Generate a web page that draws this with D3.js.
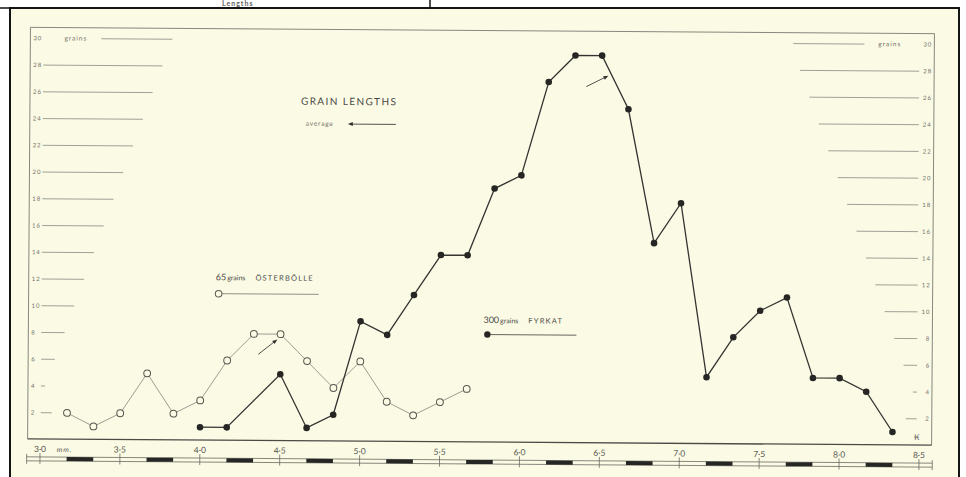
<!DOCTYPE html>
<html>
<head>
<meta charset="utf-8">
<script src="https://cdn.jsdelivr.net/npm/d3@7"></script>
<style>
  body { margin: 0; background: #ffffff; }
  svg { display: block; }
  text { font-family: Lato, "DejaVu Sans", sans-serif; }
</style>
</head>
<body>
<svg id="chart" width="966" height="477"></svg>
<script>
// Grain length distributions (mm) — Österbölle (65 grains) and Fyrkat (300 grains)
const osterMM     = [3.167, 3.333, 3.5, 3.667, 3.833, 4.0, 4.167, 4.333, 4.5, 4.667, 4.833, 5.0, 5.167, 5.333, 5.5, 5.667];
const osterGrains = [2, 1, 2, 5, 2, 3, 6, 8, 8, 6, 4, 6, 3, 2, 3, 4];

const fyrkatMM     = [4.0, 4.167, 4.5, 4.667, 4.833, 5.0, 5.167, 5.333, 5.5, 5.667, 5.833, 6.0, 6.167, 6.333, 6.5, 6.667, 6.833, 7.0, 7.167, 7.333, 7.5, 7.667, 7.833, 8.0, 8.167, 8.333];
const fyrkatGrains = [1, 1, 5, 1, 2, 9, 8, 11, 14, 14, 19, 20, 27, 29, 29, 25, 15, 18, 5, 8, 10, 11, 5, 5, 4, 1];

// average markers (mm, grains) where each arrow points
const averageMM     = [4.48, 6.54];
const averageGrains = [7.6, 27.5];

const yTicks      = [2, 4, 6, 8, 10, 12, 14, 16, 18, 20, 22, 24, 26, 28, 30];
const xTickValues = [3.0, 3.5, 4.0, 4.5, 5.0, 5.5, 6.0, 6.5, 7.0, 7.5, 8.0, 8.5];
const xTickLabels = ["3·0", "3·5", "4·0", "4·5", "5·0", "5·5", "6·0", "6·5", "7·0", "7·5", "8·0", "8·5"];

const svg = d3.select("#chart");
const paper = "#fbfae4";
const soft = "#6e6e68";

// page frame
svg.append("rect").attr("x", 10).attr("y", 8).attr("width", 949).attr("height", 480)
  .attr("fill", paper).attr("stroke", "#141414").attr("stroke-width", 2);
svg.append("path").attr("d", "M0,8H430V0").attr("fill", "none").attr("stroke", "#141414").attr("stroke-width", 1.5);
svg.append("text").attr("x", 222).attr("y", 6).attr("font-size", 7).attr("font-weight", "bold")
  .attr("letter-spacing", 1).attr("fill", "#666").text("Lengths");

const g = svg.append("g").attr("transform", "rotate(0.4,480,240)");

const x = d3.scaleLinear().domain([3, 8.5]).range([41.5, 920.5]);
const y = d3.scaleLinear().domain([0, 30]).range([442.5, 41.4]);

const frameL = 29, frameR = 933, frameT = 30.5, frameB = 442;

// plot frame
g.append("path").attr("d", `M${frameL},${frameB}V${frameT}H${frameR}V${frameB}`)
  .attr("fill", "none").attr("stroke", "#7a7a72").attr("stroke-width", 0.9);
g.append("line").attr("x1", frameL).attr("x2", frameR).attr("y1", frameB).attr("y2", frameB)
  .attr("stroke", "#4a4a46").attr("stroke-width", 1.3);

// stepped grain-count rulers on both sides
const rulerLen = v => v === 2 ? 11 : 4 + 4.8 * (v - 4);
const tickFont = 6;
yTicks.forEach(v => {
  const yy = y(v);
  g.append("text").attr("x", 32).attr("y", yy + 2).attr("font-size", tickFont)
    .attr("letter-spacing", 1).attr("fill", soft).text(v);
  g.append("text").attr("x", 931).attr("y", yy + 2).attr("font-size", tickFont)
    .attr("letter-spacing", 1).attr("text-anchor", "end").attr("fill", soft).text(v);
  if (v === 30) {
    g.append("text").attr("x", 63).attr("y", yy + 2).attr("font-size", 6.5)
      .attr("letter-spacing", 1).attr("fill", soft).text("grains");
    g.append("line").attr("x1", 100).attr("x2", 171).attr("y1", yy).attr("y2", yy)
      .attr("stroke", "#8a8a82").attr("stroke-width", 0.8);
    g.append("text").attr("x", 877).attr("y", yy + 2).attr("font-size", 6.5)
      .attr("letter-spacing", 1).attr("fill", soft).text("grains");
    g.append("line").attr("x1", 792).attr("x2", 863).attr("y1", yy).attr("y2", yy)
      .attr("stroke", "#8a8a82").attr("stroke-width", 0.8);
  } else {
    const len = rulerLen(v);
    g.append("line").attr("x1", 42).attr("x2", 42 + len).attr("y1", yy).attr("y2", yy)
      .attr("stroke", "#8a8a82").attr("stroke-width", 0.8);
    g.append("line").attr("x1", 918 - len).attr("x2", 918).attr("y1", yy).attr("y2", yy)
      .attr("stroke", "#8a8a82").attr("stroke-width", 0.8);
  }
});

// millimetre scale bar under the plot
const barTop = 460, barBot = 464;
const bin = 1 / 6;
const barStart = x(3 - bin / 2), barEnd = x(8.5 + bin / 2);
g.append("line").attr("x1", barStart).attr("x2", barEnd).attr("y1", barTop).attr("y2", barTop)
  .attr("stroke", "#6a6a64").attr("stroke-width", 0.8);
g.append("line").attr("x1", barStart).attr("x2", barEnd).attr("y1", barBot).attr("y2", barBot)
  .attr("stroke", "#6a6a64").attr("stroke-width", 0.8);
[barStart, barEnd].forEach(xx => g.append("line").attr("x1", xx).attr("x2", xx)
  .attr("y1", barTop - 3).attr("y2", barBot + 3).attr("stroke", "#6a6a64").attr("stroke-width", 0.8));
g.selectAll(".blk").data(xTickValues.slice(0, -1)).join("rect").attr("class", "blk")
  .attr("x", d => x(d + bin)).attr("width", d => x(d + 2 * bin) - x(d + bin))
  .attr("y", barTop).attr("height", barBot - barTop).attr("fill", "#262624");
g.selectAll(".stk").data(xTickValues).join("line").attr("class", "stk")
  .attr("x1", d => x(d)).attr("x2", d => x(d))
  .attr("y1", barTop - 4).attr("y2", barBot + 3).attr("stroke", "#6a6a64").attr("stroke-width", 0.8);
g.selectAll(".slb").data(xTickValues).join("text").attr("class", "slb")
  .attr("x", d => x(d)).attr("y", 455).attr("text-anchor", "middle")
  .attr("font-size", 8.5).attr("fill", "#55554f").text((d, i) => xTickLabels[i]);
g.append("text").attr("x", 66).attr("y", 455).attr("text-anchor", "middle")
  .attr("font-size", 7).attr("font-style", "italic").attr("letter-spacing", 1)
  .attr("fill", "#55554f").text("mm.");

// titles and legend
g.append("text").attr("x", 300).attr("y", 106).attr("font-size", 10).attr("letter-spacing", 1.4)
  .attr("fill", "#4a4a46").text("GRAIN LENGTHS");
g.append("text").attr("x", 305).attr("y", 127).attr("font-size", 6.5).attr("letter-spacing", 0.8)
  .attr("fill", soft).text("average");

function arrow(x1, y1, x2, y2, w) {
  const a = Math.atan2(y2 - y1, x2 - x1), L = 5, H = 2;
  g.append("line").attr("x1", x1).attr("y1", y1).attr("x2", x2 - Math.cos(a) * L * 0.6).attr("y2", y2 - Math.sin(a) * L * 0.6)
    .attr("stroke", "#404040").attr("stroke-width", w);
  const bx = x2 - Math.cos(a) * L, by = y2 - Math.sin(a) * L;
  g.append("path").attr("d", `M${x2},${y2}L${bx - Math.sin(a) * H},${by + Math.cos(a) * H}L${bx + Math.sin(a) * H},${by - Math.cos(a) * H}Z`)
    .attr("fill", "#303030");
}
arrow(395, 125, 347, 125, 0.9);

g.append("text").attr("x", 216).attr("y", 282).attr("font-size", 7.5).attr("fill", "#4a4a46")
  .html('<tspan font-size="9">65</tspan><tspan font-size="7" dx="1">grains</tspan><tspan dx="10" letter-spacing="1.2">ÖSTERBÖLLE</tspan>');
g.append("line").attr("x1", 219).attr("x2", 319).attr("y1", 295.5).attr("y2", 295.5)
  .attr("stroke", "#77776f").attr("stroke-width", 0.8);
g.append("circle").attr("cx", 219).attr("cy", 295.5).attr("r", 3.3)
  .attr("fill", paper).attr("stroke", "#5a5a54").attr("stroke-width", 1);

g.append("text").attr("x", 484).attr("y", 323).attr("font-size", 7.5).attr("fill", "#4a4a46")
  .html('<tspan font-size="9">300</tspan><tspan font-size="7" dx="1">grains</tspan><tspan dx="10" letter-spacing="1.2">FYRKAT</tspan>');
g.append("line").attr("x1", 488).attr("x2", 577).attr("y1", 334.5).attr("y2", 334.5)
  .attr("stroke", "#55554f").attr("stroke-width", 0.9);
g.append("circle").attr("cx", 488).attr("cy", 334.5).attr("r", 3.2).attr("fill", "#262624");

// series
const oster = osterMM.map((m, i) => [m, osterGrains[i]]);
const fyrkat = fyrkatMM.map((m, i) => [m, fyrkatGrains[i]]);
const line = d3.line().x(d => x(d[0])).y(d => y(d[1]));

g.append("path").attr("d", line(oster)).attr("fill", "none")
  .attr("stroke", "#86867e").attr("stroke-width", 0.8);
g.append("path").attr("d", line(fyrkat)).attr("fill", "none")
  .attr("stroke", "#333331").attr("stroke-width", 1.3);

g.selectAll(".od").data(oster).join("circle").attr("class", "od")
  .attr("cx", d => x(d[0])).attr("cy", d => y(d[1])).attr("r", 3.4)
  .attr("fill", paper).attr("stroke", "#55554f").attr("stroke-width", 1);
g.selectAll(".fd").data(fyrkat).join("circle").attr("class", "fd")
  .attr("cx", d => x(d[0])).attr("cy", d => y(d[1])).attr("r", 3.3)
  .attr("fill", "#262624");

// average arrows
const tails = [[-19, 15], [-22, 11]];
averageMM.forEach((m, i) => {
  const tx = x(m), ty = y(averageGrains[i]);
  arrow(tx + tails[i][0], ty + tails[i][1], tx, ty, 0.9);
});

// draughtsman's mark
g.append("text").attr("x", 918).attr("y", 437).attr("text-anchor", "middle")
  .attr("font-size", 8).attr("fill", "#6a6a64").text("₭");
</script>
</body>
</html>
